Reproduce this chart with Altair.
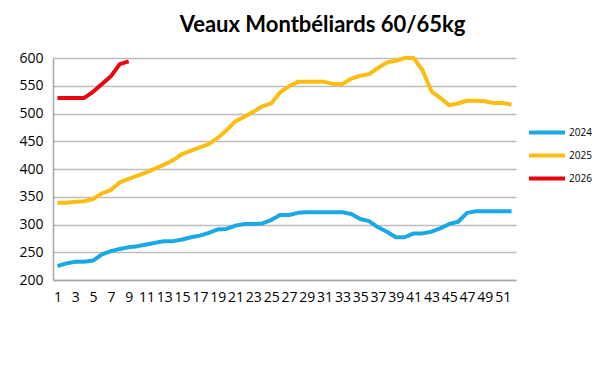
import altair as alt
import pandas as pd

weeks = list(range(1, 53))

v2024 = [225, 230, 233, 233, 235, 246, 252, 256, 259, 261,
         264, 267, 270, 270, 273, 277, 280, 285, 291, 292,
         298, 301, 301, 302, 308, 317, 317, 321, 322, 322,
         322, 322, 322, 319, 310, 306, 295, 287, 277, 277,
         284, 284, 287, 293, 301, 305, 321, 324, 324, 324,
         324, 324]

v2025 = [339, 339, 341, 342, 346, 356, 362, 376, 382, 388,
         394, 401, 408, 416, 427, 433, 439, 445, 456, 470,
         486, 494, 503, 513, 518, 538, 549, 557, 557, 557,
         557, 553, 553, 563, 568, 571, 582, 592, 595, 600,
         600, 578, 540, 528, 515, 518, 523, 523, 522, 519,
         519, 516]

v2026 = [528, 528, 528, 528, 539, 553, 567, 589, 594]

series = ["2024", "2025", "2026"]
colors = ["#1aa9e2", "#fbbd12", "#e8060e"]
y_ticks = [200, 250, 300, 350, 400, 450, 500, 550, 600]
x_labels = [w for w in weeks if w % 2 == 1]

rows = []
for name, vals in zip(series, [v2024, v2025, v2026]):
    for w, v in zip(weeks, vals):
        rows.append({"week": w, "value": v, "year": name})
df = pd.DataFrame(rows)

chart = alt.Chart(df).mark_line(strokeWidth=4, strokeJoin="round", strokeCap="butt").encode(
    x=alt.X("week:O", sort=weeks,
            scale=alt.Scale(type="point", padding=0.5, domain=weeks),
            axis=alt.Axis(values=x_labels, labelAngle=0, ticks=False, grid=False,
                          domainColor="#a6a6a6", domainWidth=1.5, title=None,
                          labelPadding=10, labelFontSize=14, labelFont="Open Sans",
                          labelColor="#000000")),
    y=alt.Y("value:Q", scale=alt.Scale(domain=[200, 600], nice=False, zero=False),
            axis=alt.Axis(values=y_ticks, ticks=False, grid=True, gridColor="#bdbdbd",
                          gridWidth=1.5, domainColor="#a6a6a6", domainWidth=1.5,
                          title=None, labelPadding=10, labelFontSize=14,
                          labelFont="Open Sans", labelColor="#000000")),
    color=alt.Color("year:N", scale=alt.Scale(domain=series, range=colors),
                    legend=alt.Legend(title=None, orient="none", legendX=474, legendY=67,
                                      symbolType="stroke", symbolSize=1296,
                                      symbolStrokeWidth=4, labelFontSize=10,
                                      labelFont="Open Sans", labelColor="#000000",
                                      clipHeight=15, rowPadding=8, labelOffset=2)),
).properties(
    width=463,
    height=222,
    title=alt.TitleParams("Veaux Montbéliards 60/65kg", font="Lato", fontSize=22,
                          fontWeight="bold", color="#000000", anchor="middle",
                          dx=38, offset=14),
    autosize=alt.AutoSizeParams(type="none"),
    padding={"left": 45, "top": 50, "right": 76, "bottom": 83},
).configure_view(stroke=None)

chart.save("out.html", embed_options={"renderer": "svg", "actions": False})
